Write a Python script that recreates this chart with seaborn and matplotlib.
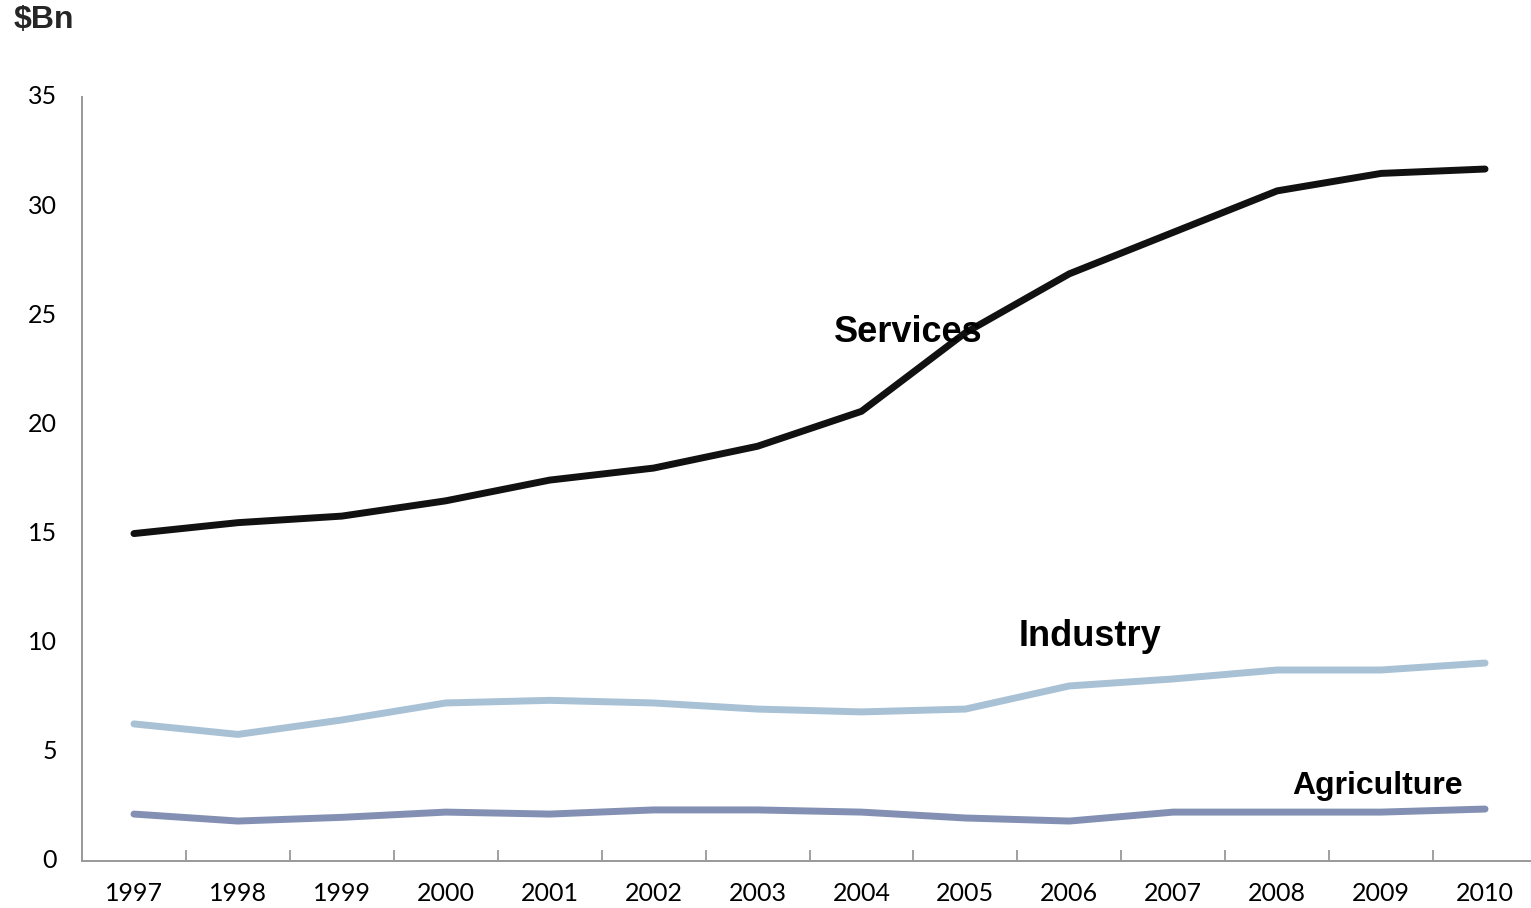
import matplotlib
matplotlib.use("Agg")
import matplotlib.pyplot as plt
import seaborn as sns
import pandas as pd
import numpy as np

years = ["1997", "1998", "1999", "2000", "2001", "2002", "2003",
         "2004", "2005", "2006", "2007", "2008", "2009", "2010"]
services = [15.0, 15.5, 15.8, 16.5, 17.45, 18.0, 19.0, 20.6, 24.2, 26.9, 28.8, 30.7, 31.5, 31.7]
industry = [6.28, 5.8, 6.46, 7.24, 7.36, 7.24, 6.96, 6.83, 6.96, 8.02, 8.34, 8.75, 8.75, 9.07]
agriculture = [2.15, 1.83, 2.0, 2.24, 2.15, 2.34, 2.34, 2.24, 1.97, 1.83, 2.24, 2.24, 2.24, 2.38]
series_names = ["Services", "Industry", "Agriculture"]
yticks = [0, 5, 10, 15, 20, 25, 30, 35]

colors = {"Services": "#111111", "Industry": "#a8c1d5", "Agriculture": "#8390b3"}

rows = []
for name, vals in zip(series_names, [services, industry, agriculture]):
    for i, v in enumerate(vals):
        rows.append({"pos": i, "year": years[i], "value": v, "series": name})
df = pd.DataFrame(rows)

sns.set_theme(style="white")
plt.rcParams["font.family"] = ["Lato", "DejaVu Sans"]

W, H = 1531, 908
fig = plt.figure(figsize=(W / 100, H / 100), dpi=100)
left, right, top, bottom = 82, 1537, 97, 861
ax = fig.add_axes([left / W, 1 - bottom / H, (right - left) / W, (bottom - top) / H])

sns.lineplot(data=df, x="pos", y="value", hue="series", palette=colors,
             linewidth=5, ax=ax, legend=False, sort=False)
for ln in ax.get_lines():
    ln.set_solid_capstyle("round")
    ln.set_solid_joinstyle("round")

ax.set_xlim(-0.5, 13.5)
ax.set_ylim(0, 35)
ax.set_yticks(yticks)
ax.set_yticklabels([str(t) for t in yticks], fontsize=18)
ax.set_xticks(range(len(years)))
ax.set_xticklabels(years, fontsize=18)
ax.set_xticks(np.arange(0.5, 13.5, 1), minor=True)
ax.tick_params(axis="x", which="major", length=0, pad=15, colors="black")
ax.tick_params(axis="x", which="minor", bottom=True, length=8, direction="in",
               color="#999999", width=1.3)
ax.tick_params(axis="y", length=0, pad=18, colors="black")
for lab in ax.get_yticklabels():
    lab.set_verticalalignment("center")
ax.set_xlabel("")
ax.set_ylabel("")
for s in ["top", "right"]:
    ax.spines[s].set_visible(False)
for s in ["left", "bottom"]:
    ax.spines[s].set_color("#999999")
    ax.spines[s].set_linewidth(1.4)

bold = dict(fontweight="bold", family=["Liberation Sans", "DejaVu Sans"], color="black",
            ha="center", va="center")
ax.text(7.45, 24.2, "Services", fontsize=26, **bold)
ax.text(9.2, 10.3, "Industry", fontsize=26, **bold)
ax.text(11.97, 3.45, "Agriculture", fontsize=23, **bold)
fig.text(14 / W, 1 - 20 / H, "$Bn", fontsize=23, fontweight="bold",
         family=["Liberation Sans", "DejaVu Sans"], ha="left", va="center")

fig.savefig("out.png", dpi=100)
